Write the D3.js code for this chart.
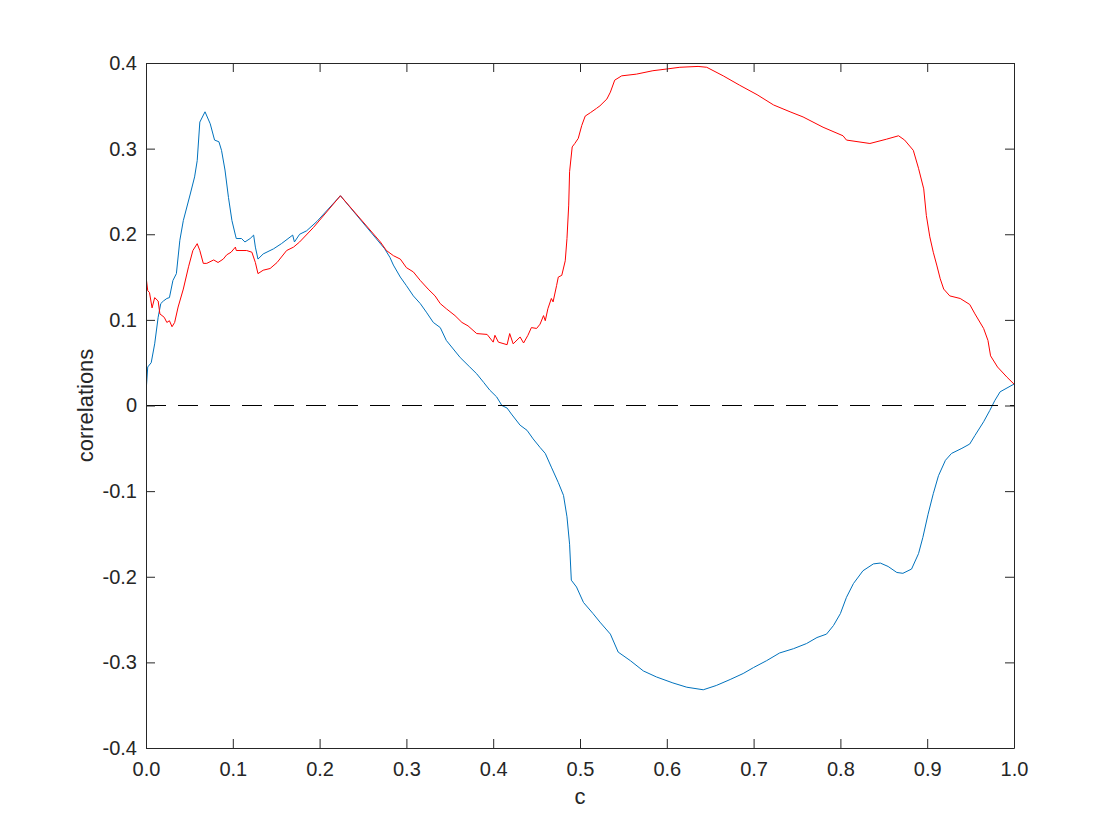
<!DOCTYPE html>
<html>
<head>
<meta charset="utf-8">
<script src="https://cdn.jsdelivr.net/npm/d3@7"></script>
<style>
  html, body { margin: 0; padding: 0; background: #ffffff; }
  svg { display: block; }
  text { font-family: "Liberation Sans", Arial, Helvetica, sans-serif; fill: #262626; }
</style>
</head>
<body>
<div id="chart"></div>
<script>
// ---------------- data ----------------
const xTicks = [0, 0.1, 0.2, 0.3, 0.4, 0.5, 0.6, 0.7, 0.8, 0.9, 1.0];
const xTickLabels = ["0.0", "0.1", "0.2", "0.3", "0.4", "0.5", "0.6", "0.7", "0.8", "0.9", "1.0"];
const yTicks = [-0.4, -0.3, -0.2, -0.1, 0, 0.1, 0.2, 0.3, 0.4];
const yTickLabels = ["-0.4", "-0.3", "-0.2", "-0.1", "0", "0.1", "0.2", "0.3", "0.4"];
const xLabel = "c";
const yLabel = "correlations";

// blue series
const blueC = [0.000, 0.002, 0.006, 0.010, 0.014, 0.017, 0.020, 0.024, 0.027, 0.031, 0.035, 0.039, 0.043,
  0.051, 0.056, 0.059, 0.062, 0.068, 0.074, 0.079, 0.084, 0.087, 0.091, 0.095, 0.099, 0.103, 0.104,
  0.110, 0.114, 0.120, 0.124, 0.126, 0.129, 0.135, 0.147, 0.156, 0.169, 0.171, 0.177, 0.185, 0.197,
  0.224, 0.275, 0.281, 0.285, 0.293, 0.300, 0.308, 0.316, 0.323, 0.331, 0.339, 0.346, 0.354, 0.362,
  0.373, 0.381, 0.389, 0.396, 0.404, 0.410, 0.416, 0.421, 0.431, 0.439, 0.446, 0.454, 0.460, 0.467,
  0.475, 0.481, 0.485, 0.488, 0.490, 0.496, 0.504, 0.515, 0.523, 0.535, 0.544, 0.558, 0.573, 0.588,
  0.607, 0.623, 0.642, 0.657, 0.673, 0.688, 0.700, 0.715, 0.730, 0.746, 0.761, 0.773, 0.784, 0.792,
  0.800, 0.807, 0.815, 0.826, 0.838, 0.846, 0.855, 0.865, 0.872, 0.882, 0.890, 0.895, 0.901, 0.907,
  0.913, 0.921, 0.928, 0.940, 0.949, 0.955, 0.965, 0.972, 0.978, 0.984, 1.000];
const blueV = [0.015, 0.045, 0.050, 0.072, 0.103, 0.119, 0.122, 0.125, 0.126, 0.146, 0.154, 0.193, 0.216,
  0.247, 0.267, 0.286, 0.331, 0.343, 0.329, 0.310, 0.308, 0.298, 0.275, 0.243, 0.216, 0.199, 0.195,
  0.195, 0.191, 0.195, 0.199, 0.185, 0.171, 0.177, 0.183, 0.189, 0.199, 0.191, 0.200, 0.204, 0.215,
  0.245, 0.183, 0.173, 0.164, 0.150, 0.140, 0.128, 0.119, 0.109, 0.097, 0.091, 0.076, 0.066, 0.056,
  0.045, 0.037, 0.027, 0.018, 0.010, 0.000, -0.003, -0.010, -0.023, -0.029, -0.039, -0.049, -0.056, -0.072,
  -0.090, -0.105, -0.130, -0.162, -0.204, -0.212, -0.230, -0.243, -0.253, -0.267, -0.288, -0.298, -0.310, -0.317,
  -0.324, -0.329, -0.332, -0.327, -0.320, -0.313, -0.306, -0.298, -0.289, -0.284, -0.278, -0.271, -0.267, -0.257,
  -0.243, -0.224, -0.208, -0.193, -0.185, -0.184, -0.188, -0.195, -0.196, -0.191, -0.173, -0.154, -0.127, -0.103,
  -0.082, -0.064, -0.056, -0.050, -0.045, -0.035, -0.019, -0.006, 0.006, 0.016, 0.025];

// red series
const redC = [0.000, 0.002, 0.004, 0.007, 0.010, 0.014, 0.016, 0.021, 0.024, 0.027, 0.030, 0.033, 0.037,
  0.043, 0.049, 0.054, 0.059, 0.062, 0.066, 0.070, 0.078, 0.083, 0.089, 0.093, 0.098, 0.103, 0.104,
  0.116, 0.122, 0.126, 0.129, 0.135, 0.143, 0.151, 0.162, 0.170, 0.177, 0.193, 0.224, 0.270, 0.277,
  0.285, 0.293, 0.300, 0.308, 0.316, 0.325, 0.333, 0.339, 0.346, 0.356, 0.364, 0.371, 0.381, 0.393,
  0.400, 0.402, 0.406, 0.416, 0.419, 0.423, 0.431, 0.435, 0.440, 0.444, 0.450, 0.454, 0.458, 0.460,
  0.463, 0.467, 0.469, 0.473, 0.475, 0.479, 0.483, 0.485, 0.487, 0.488, 0.491, 0.494, 0.498, 0.502,
  0.506, 0.512, 0.519, 0.523, 0.531, 0.535, 0.540, 0.548, 0.565, 0.584, 0.600, 0.615, 0.636, 0.646,
  0.665, 0.684, 0.704, 0.723, 0.742, 0.757, 0.780, 0.803, 0.807, 0.834, 0.853, 0.867, 0.874, 0.884,
  0.890, 0.896, 0.899, 0.903, 0.907, 0.911, 0.915, 0.919, 0.926, 0.938, 0.949, 0.955, 0.965, 0.970,
  0.973, 0.981, 0.992, 1.000];
const redV = [0.151, 0.134, 0.132, 0.114, 0.126, 0.122, 0.107, 0.103, 0.097, 0.099, 0.092, 0.097, 0.115,
  0.136, 0.162, 0.181, 0.189, 0.181, 0.166, 0.166, 0.170, 0.167, 0.171, 0.176, 0.179, 0.185, 0.181,
  0.181, 0.179, 0.167, 0.154, 0.158, 0.160, 0.167, 0.181, 0.185, 0.191, 0.208, 0.245, 0.191, 0.181,
  0.175, 0.171, 0.161, 0.156, 0.146, 0.136, 0.128, 0.119, 0.113, 0.105, 0.097, 0.093, 0.084, 0.083,
  0.074, 0.082, 0.074, 0.071, 0.084, 0.072, 0.080, 0.073, 0.082, 0.091, 0.090, 0.095, 0.105, 0.099,
  0.113, 0.125, 0.121, 0.140, 0.150, 0.152, 0.169, 0.195, 0.234, 0.273, 0.302, 0.306, 0.312, 0.327,
  0.338, 0.342, 0.347, 0.350, 0.358, 0.366, 0.380, 0.385, 0.387, 0.391, 0.393, 0.395, 0.396, 0.395,
  0.385, 0.374, 0.363, 0.351, 0.343, 0.337, 0.325, 0.315, 0.310, 0.306, 0.311, 0.315, 0.310, 0.298,
  0.277, 0.253, 0.222, 0.197, 0.179, 0.164, 0.148, 0.136, 0.128, 0.125, 0.118, 0.107, 0.090, 0.076,
  0.058, 0.045, 0.033, 0.025];

const zeroLineC = [0, 1];
const zeroLineV = [0, 0];

// ---------------- layout ----------------
const W = 1120, H = 840;
const margin = { left: 146, right: 1120 - 1014, top: 63, bottom: 840 - 748 };
const iw = W - margin.left - margin.right;
const ih = H - margin.top - margin.bottom;
const axisColor = "#262626";
const tickFont = 20, labelFont = 22;

const svg = d3.select("#chart").append("svg")
  .attr("width", W).attr("height", H);

const g = svg.append("g").attr("transform", `translate(${margin.left},${margin.top})`);

const x = d3.scaleLinear().domain([0, 1]).range([0, iw]);
const y = d3.scaleLinear().domain([-0.4, 0.4]).range([ih, 0]);

svg.append("defs").append("clipPath").attr("id", "plotclip")
  .append("rect").attr("x", 0).attr("y", 0).attr("width", iw).attr("height", ih);

const line = d3.line().x(d => x(d[0])).y(d => y(d[1]));
const zipped = (cs, vs) => cs.map((c, i) => [c, vs[i]]);

const plot = g.append("g").attr("clip-path", "url(#plotclip)");

plot.append("path")
  .datum(zipped(blueC, blueV))
  .attr("d", line)
  .attr("fill", "none")
  .attr("stroke", "#0072BD")
  .attr("stroke-width", 1)
  .attr("stroke-linejoin", "round");

plot.append("path")
  .datum(zipped(redC, redV))
  .attr("d", line)
  .attr("fill", "none")
  .attr("stroke", "#FF0000")
  .attr("stroke-width", 1)
  .attr("stroke-linejoin", "round");

plot.append("path")
  .datum(zipped(zeroLineC, zeroLineV))
  .attr("d", line)
  .attr("fill", "none")
  .attr("stroke", "#000000")
  .attr("stroke-width", 1.2)
  .attr("stroke-dasharray", "20,12");

// ---------------- axes ----------------
const tickLen = 9;
const xFmt = (d) => xTickLabels[xTicks.indexOf(d)];
const yFmt = (d) => yTickLabels[yTicks.indexOf(d)];

function styleAxis(sel, fontSize) {
  sel.select(".domain").attr("stroke", axisColor).attr("stroke-width", 1);
  sel.selectAll(".tick line").attr("stroke", axisColor).attr("stroke-width", 1);
  sel.selectAll(".tick text").attr("fill", axisColor)
    .style("font-size", fontSize + "px")
    .style("font-family", '"Liberation Sans", Arial, Helvetica, sans-serif');
}

const gxB = g.append("g").attr("transform", `translate(0,${ih})`)
  .call(d3.axisBottom(x).tickValues(xTicks).tickFormat(xFmt)
    .tickSizeInner(-tickLen).tickSizeOuter(0).tickPadding(14));
styleAxis(gxB, tickFont);

const gxT = g.append("g")
  .call(d3.axisTop(x).tickValues(xTicks).tickFormat("")
    .tickSizeInner(-tickLen).tickSizeOuter(0));
styleAxis(gxT, tickFont);

const gyL = g.append("g")
  .call(d3.axisLeft(y).tickValues(yTicks).tickFormat(yFmt)
    .tickSizeInner(-tickLen).tickSizeOuter(0).tickPadding(9));
styleAxis(gyL, tickFont);

const gyR = g.append("g").attr("transform", `translate(${iw},0)`)
  .call(d3.axisRight(y).tickValues(yTicks).tickFormat("")
    .tickSizeInner(-tickLen).tickSizeOuter(0));
styleAxis(gyR, tickFont);

// axis labels
svg.append("text")
  .attr("x", margin.left + iw / 2)
  .attr("y", 804)
  .attr("text-anchor", "middle")
  .style("font-size", labelFont + "px")
  .attr("fill", axisColor)
  .text(xLabel);

svg.append("text")
  .attr("transform", `translate(93,${margin.top + ih / 2}) rotate(-90)`)
  .attr("text-anchor", "middle")
  .style("font-size", labelFont + "px")
  .attr("fill", axisColor)
  .text(yLabel);
</script>
</body>
</html>
